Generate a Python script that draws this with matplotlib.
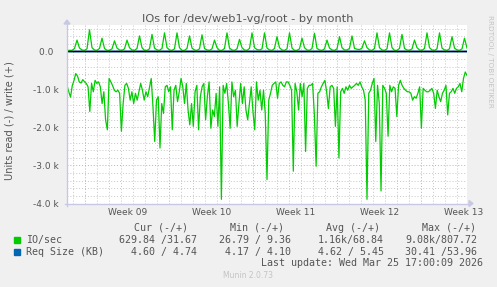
import numpy as np
import matplotlib
matplotlib.use("Agg")
import matplotlib.pyplot as plt
from matplotlib.patches import Polygon, Rectangle

# ---------------- data ----------------
title = "IOs for /dev/web1-vg/root - by month"
ylabel = "Units read (-) / write (+)"
week_labels = ["Week 09", "Week 10", "Week 11", "Week 12", "Week 13"]

# IO/sec read (plotted negative), thousands, ~4h steps over the month
io_read_k = [
    -0.89, -1.06, -1.20, -0.90, -0.76, -0.58, -0.65, -0.80, -0.83, -0.74, -0.80, -0.84, -0.93, -1.58, -0.84,
    -1.06, -0.76, -0.84, -0.80, -0.93, -1.37, -1.06, -1.80, -2.06, -0.71, -0.80, -0.90, -1.02, -1.06, -1.02,
    -1.10, -2.10, -1.37, -0.89, -0.84, -0.97, -1.28, -1.06, -1.37, -1.10, -1.28, -1.06, -0.84, -1.02, -1.28,
    -1.06, -1.19, -0.95, -0.71, -1.45, -2.37, -1.28, -1.19, -2.54, -1.37, -1.63, -0.93,
    -0.89, -1.06, -0.93, -2.06, -1.02, -0.89, -1.32, -1.06, -0.71, -0.93, -1.37, -0.84, -1.54, -1.93, -1.37,
    -1.97, -1.06, -0.89, -2.06, -1.19, -0.93, -0.84, -1.80, -1.19, -0.80, -2.02, -1.54, -1.71, -1.10, -1.97,
    -0.93, -3.89, -0.89, -1.10, -0.84, -1.37, -2.02, -0.80, -1.19, -1.02, -1.97, -1.37, -0.84, -1.37, -0.93,
    -1.54, -1.80, -1.37, -0.93, -1.58, -2.06, -0.80, -1.28, -1.02, -1.54, -1.02, -1.63, -3.37,
    -1.28, -1.10, -0.89, -0.84, -0.80, -1.23, -0.84, -0.80, -0.89, -0.93, -0.80, -0.80, -0.89, -1.02, -3.15,
    -0.84, -1.06, -1.54, -0.84, -1.19, -0.84, -2.63, -0.97, -0.89, -0.89, -0.84, -1.67, -3.02, -1.10, -1.06,
    -0.93, -0.84, -0.76, -1.06, -1.50, -0.93, -0.89, -0.97, -1.97, -0.93, -2.80, -1.06, -0.97, -1.10, -0.93,
    -1.02, -0.89, -0.97, -0.93, -0.89, -0.84, -0.89, -0.80, -0.93, -1.02, -1.28, -3.89,
    -1.10, -1.02, -0.84, -0.71, -2.37, -0.89, -1.37, -3.67, -0.89, -0.97, -1.10, -2.23, -0.89, -1.06, -0.93,
    -0.97, -1.71, -0.89, -0.76, -0.89, -0.97, -1.02, -1.06, -1.06, -1.10, -1.28, -1.19, -1.23, -1.10, -0.93,
    -2.02, -0.97, -1.02, -1.06, -1.06, -1.02, -0.97, -1.10, -1.50, -1.02, -1.19, -1.32, -1.10, -1.02, -0.89,
    -1.67, -1.10, -1.06, -0.97, -1.10, -0.97, -0.93, -0.84, -1.06, -0.71, -0.54, -0.63,
]

# IO/sec write (plotted positive), thousands, ~5h steps
io_write_k = [
    0.03, 0.03, 0.03, 0.08, 0.30,
    0.09, 0.04, 0.03, 0.07, 0.57,
    0.10, 0.04, 0.03, 0.08, 0.35,
    0.08, 0.03, 0.03, 0.07, 0.28,
    0.09, 0.04, 0.03, 0.07, 0.30,
    0.10, 0.04, 0.03, 0.08, 0.41,
    0.10, 0.03, 0.03, 0.07, 0.45,
    0.09, 0.04, 0.03, 0.08, 0.49,
    0.10, 0.04, 0.03, 0.07, 0.49,
    0.10, 0.03, 0.03, 0.08, 0.41,
    0.09, 0.04, 0.03, 0.07, 0.44,
    0.08, 0.04, 0.03, 0.07, 0.30,
    0.10, 0.03, 0.03, 0.08, 0.49,
    0.09, 0.04, 0.03, 0.07, 0.32,
    0.10, 0.04, 0.03, 0.08, 0.49,
    0.10, 0.05, 0.04, 0.07, 0.49,
    0.09, 0.04, 0.03, 0.08, 0.39,
    0.10, 0.04, 0.03, 0.07, 0.49,
    0.09, 0.03, 0.03, 0.07, 0.35,
    0.10, 0.04, 0.03, 0.08, 0.48,
    0.08, 0.04, 0.03, 0.07, 0.30,
    0.09, 0.04, 0.03, 0.07, 0.39,
    0.10, 0.04, 0.04, 0.08, 0.41,
    0.08, 0.06, 0.05, 0.09, 0.28,
    0.10, 0.04, 0.03, 0.08, 0.49,
    0.10, 0.04, 0.03, 0.07, 0.49,
    0.10, 0.03, 0.03, 0.08, 0.45,
    0.08, 0.04, 0.03, 0.07, 0.30,
    0.10, 0.04, 0.03, 0.08, 0.49,
    0.10, 0.04, 0.03, 0.07, 0.49,
    0.09, 0.04, 0.03, 0.07, 0.39,
    0.09, 0.04, 0.03, 0.07, 0.35,
    0.09,
]

# Req size (KB), read (-) / write (+)
req_read_kb = [4.6, 4.5, 4.7, 4.6, 4.5, 4.6, 4.7, 4.6]
req_write_kb = [4.7, 5.6, 5.4, 5.5, 5.3, 5.6, 5.4, 4.7]

legend_cols = ["Cur (-/+)", "Min (-/+)", "Avg (-/+)", "Max (-/+)"]
legend_rows = [
    ("IO/sec", "#00CC00", ["629.84 /31.67", "26.79 / 9.36", "1.16k/68.84", "9.08k/807.72"]),
    ("Req Size (KB)", "#0066B3", ["4.60 / 4.74", "4.17 / 4.10", "4.62 / 5.45", "30.41 /53.96"]),
]
last_update = "Last update: Wed Mar 25 17:00:09 2026"
footer = "Munin 2.0.73"
side_text = "RRDTOOL / TOBI OETIKER"

span_days = 400 / 12.0       # visible time span (days)
first_week_start = 1.54      # day offset of first Monday in view

# ---------------- figure ----------------
W, H = 497, 287
BG = "#F0F0F0"
TXT = "#555555"
fig = plt.figure(figsize=(W / 100, H / 100), dpi=100, facecolor=BG)

def fx(px):
    return px / W

def fy(py):
    return 1 - py / H

L, R, T, B = 67, 467, 25, 203.5
ax = fig.add_axes([fx(L), fy(B), fx(R) - fx(L), fy(T) - fy(B)])
ax.set_facecolor("white")
for s in ax.spines.values():
    s.set_visible(False)

ymin, ymax = -4000, 697
ax.set_xlim(0, span_days)
ax.set_ylim(ymin, ymax)

# grid
minor_c = "#c6c6c6"
major_c = "#dba4a4"
dots = (0, (1, 2))
for v in np.arange(-3800, 700, 200):
    if v % 1000 == 0:
        continue
    ax.axhline(v, color=minor_c, lw=0.7, ls=dots, zorder=1)
for v in [-1000, -2000, -3000]:
    ax.axhline(v, color=major_c, lw=0.7, ls=dots, zorder=1)
d = first_week_start - 1
while d < span_days:
    is_major = abs(((d - first_week_start) / 7) - round((d - first_week_start) / 7)) < 1e-6
    ax.axvline(d, color=major_c if is_major else minor_c, lw=0.7, ls=dots, zorder=1)
    d += 1

t_read = np.linspace(0, span_days, len(io_read_k))
t_write = np.linspace(0, span_days, len(io_write_k))
t_req = np.linspace(0, span_days, len(req_read_kb))

ax.plot(t_req, -np.array(req_read_kb), color="#0066B3", lw=1, zorder=2)
ax.plot(t_req, np.array(req_write_kb), color="#0066B3", lw=1, zorder=2)
ax.plot(t_read, np.array(io_read_k) * 1000, color="#00CC00", lw=0.9, zorder=3)
ax.plot(t_write, np.array(io_write_k) * 1000, color="#00CC00", lw=0.9, zorder=3)
ax.axhline(0, color="black", lw=1.0, zorder=4)

# ticks
ax.set_yticks([0, -1000, -2000, -3000, -4000])
ax.set_yticklabels(["0.0  ", "-1.0 k", "-2.0 k", "-3.0 k", "-4.0 k"])
ax.set_xticks([first_week_start + 3.5 + 7 * i for i in range(len(week_labels))])
ax.set_xticklabels(week_labels)
ax.tick_params(axis="y", length=0, pad=5.8, labelsize=6.5, labelcolor=TXT)
ax.tick_params(axis="x", length=0, pad=3.5, labelsize=6.5, labelcolor=TXT)

# axis lines with arrows
axc = "#c8c8e6"
fig.add_artist(plt.Line2D([fx(L), fx(L)], [fy(B + 2), fy(T - 1)], color=axc, lw=1))
fig.add_artist(plt.Line2D([fx(L - 2), fx(R + 2)], [fy(B), fy(B)], color=axc, lw=1))
fig.add_artist(Polygon([[fx(L - 3), fy(T - 1)], [fx(L + 3), fy(T - 1)], [fx(L), fy(T - 5)]],
                       closed=True, color=axc, transform=fig.transFigure))
fig.add_artist(Polygon([[fx(R + 2), fy(B - 3)], [fx(R + 2), fy(B + 3)], [fx(R + 6), fy(B)]],
                       closed=True, color=axc, transform=fig.transFigure))

# texts
fig.text(fx(248), fy(19), title, ha="center", va="center", fontsize=8.2, color=TXT)
fig.text(fx(10), fy(121), ylabel, ha="center", va="center", rotation=90, fontsize=7.1, color=TXT)
fig.text(fx(490), fy(15), side_text, ha="center", va="top", rotation=270, fontsize=5.2, color="#c4c4c4")

mono = "DejaVu Sans Mono"
fs = 7.2
col_centers = [161, 257, 353, 449]
col_rights = [197, 291, 384, 477]
for c, x in zip(legend_cols, col_centers):
    fig.text(fx(x), fy(228), c, ha="center", va="center", family=mono, fontsize=fs, color=TXT)
for i, (name, color, vals) in enumerate(legend_rows):
    y = 239.5 + 12.3 * i
    fig.add_artist(Rectangle((fx(14), fy(y + 3)), fx(6), fy(y - 3) - fy(y + 3),
                             color=color, transform=fig.transFigure))
    fig.text(fx(26), fy(y), name, ha="left", va="center", family=mono, fontsize=fs, color=TXT)
    for v, x in zip(vals, col_rights):
        fig.text(fx(x), fy(y), v, ha="right", va="center", family=mono, fontsize=fs, color=TXT)
fig.text(fx(483), fy(263.5), last_update, ha="right", va="center", family=mono, fontsize=fs, color=TXT)
fig.text(fx(248), fy(276), footer, ha="center", va="center", fontsize=5.5, color="#c4c4c4")

fig.savefig("out.png", dpi=100, facecolor=BG)
